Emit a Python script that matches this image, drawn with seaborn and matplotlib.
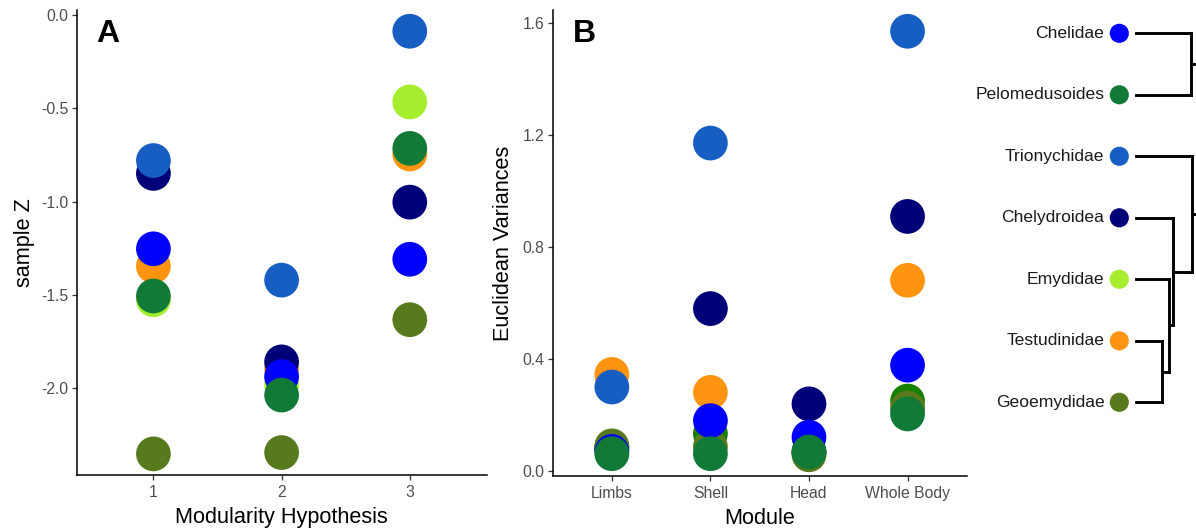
import numpy as np
import pandas as pd
import matplotlib
matplotlib.use("Agg")
import matplotlib.pyplot as plt
import seaborn as sns

# ---------------- data ----------------
families = ["Chelidae", "Pelomedusoides", "Trionychidae", "Chelydroidea",
            "Emydidae", "Testudinidae", "Geoemydidae"]
# order in which points are stacked (bottom -> top)
draw_order = ["Testudinidae", "Emydidae", "Chelydroidea", "Trionychidae",
              "Geoemydidae", "Chelidae", "Pelomedusoides"]

colors_A = {
    "Chelidae": "#0000FF",
    "Pelomedusoides": "#117A37",
    "Trionychidae": "#175EC2",
    "Chelydroidea": "#000078",
    "Emydidae": "#A6EE2D",
    "Testudinidae": "#FF9410",
    "Geoemydidae": "#577A1D",
}
colors_B = dict(colors_A, Emydidae="#168000")

hypotheses = [1, 2, 3]
z_chelidae = [-1.252, -1.937, -1.308]
z_pelomedusoides = [-1.505, -2.036, -0.714]
z_trionychidae = [-0.779, -1.420, -0.086]
z_chelydroidea = [-0.848, -1.858, -1.002]
z_emydidae = [-1.525, -1.980, -0.465]
z_testudinidae = [-1.345, -1.895, -0.744]
z_geoemydidae = [-2.351, -2.344, -1.632]

modules = ["Limbs", "Shell", "Head", "Whole Body"]
v_chelidae = [0.070, 0.180, 0.121, 0.378]
v_pelomedusoides = [0.062, 0.062, 0.068, 0.204]
v_trionychidae = [0.300, 1.171, 0.070, 1.570]
v_chelydroidea = [0.080, 0.580, 0.240, 0.909]
v_emydidae = [0.085, 0.133, 0.065, 0.250]
v_testudinidae = [0.345, 0.281, 0.070, 0.681]
v_geoemydidae = [0.090, 0.087, 0.058, 0.225]

z_by_family = {"Chelidae": z_chelidae, "Pelomedusoides": z_pelomedusoides,
               "Trionychidae": z_trionychidae, "Chelydroidea": z_chelydroidea,
               "Emydidae": z_emydidae, "Testudinidae": z_testudinidae,
               "Geoemydidae": z_geoemydidae}
v_by_family = {"Chelidae": v_chelidae, "Pelomedusoides": v_pelomedusoides,
               "Trionychidae": v_trionychidae, "Chelydroidea": v_chelydroidea,
               "Emydidae": v_emydidae, "Testudinidae": v_testudinidae,
               "Geoemydidae": v_geoemydidae}

# tree: tips top->bottom, internal nodes (child_a, child_b, depth)
tree_tips = ["Chelidae", "Pelomedusoides", "Trionychidae", "Chelydroidea",
             "Emydidae", "Testudinidae", "Geoemydidae"]
tree_nodes = {
    "n1": ("Testudinidae", "Geoemydidae", 25.7),
    "n2": ("Emydidae", "n1", 33.3),
    "n3": ("Chelydroidea", "n2", 36.7),
    "n4": ("Trionychidae", "n3", 55.7),
    "n5": ("Chelidae", "Pelomedusoides", 54.7),
    "root": ("n5", "n4", 75.0),
}

dfA = pd.DataFrame([(h, z_by_family[f][i], f) for f in draw_order
                    for i, h in enumerate(hypotheses)],
                   columns=["hyp", "z", "family"])
dfB = pd.DataFrame([(m, v_by_family[f][i], f) for f in draw_order
                    for i, m in enumerate(modules)],
                   columns=["module", "var", "family"])


def gg_expand(vals, mult=0.05):
    lo, hi = min(vals), max(vals)
    r = hi - lo
    return lo - mult * r, hi + mult * r


# ---------------- style ----------------
sns.set_theme(style="ticks")
plt.rcParams["font.family"] = ["Liberation Sans", "DejaVu Sans"]

W, H = 1196, 529
fig = plt.figure(figsize=(W / 100, H / 100), dpi=100)


def px_axes(x0, x1, ytop, ybot):
    return fig.add_axes([x0 / W, (H - ybot) / H, (x1 - x0) / W, (ybot - ytop) / H])


axA = px_axes(76.5, 486.7, 10.1, 475.0)
axB = px_axes(552.7, 966.7, 10.1, 476.0)

tick_col = "#4D4D4D"


def style_axes(ax):
    for s in ["top", "right"]:
        ax.spines[s].set_visible(False)
    for s in ["left", "bottom"]:
        ax.spines[s].set_linewidth(1.1)
        ax.spines[s].set_color("black")
    ax.tick_params(axis="both", length=3.5, width=0.9, color="#333333",
                   labelcolor=tick_col, labelsize=11.3, pad=2.5)
    ax.tick_params(axis="x", pad=4)
    ax.grid(False)
    ax.set_facecolor("white")


# Panel A
sns.stripplot(data=dfA, x="hyp", y="z", hue="family", order=hypotheses,
              hue_order=families, palette=colors_A, jitter=False, size=25,
              linewidth=0, legend=False, ax=axA)
axA.set_xlim(-0.6, len(hypotheses) - 0.4)
axA.set_ylim(*gg_expand(dfA["z"]))
axA.set_yticks([0.0, -0.5, -1.0, -1.5, -2.0])
axA.set_yticklabels(["0.0", "-0.5", "-1.0", "-1.5", "-2.0"])
axA.set_xticks(range(len(hypotheses)))
axA.set_xticklabels([str(h) for h in hypotheses])
axA.set_xlabel("Modularity Hypothesis", fontsize=15.6, color="black", labelpad=4.5)
axA.set_ylabel("sample Z", fontsize=15.6, color="black", labelpad=4)
style_axes(axA)
axA.text(0.0475, 0.931, "A", transform=axA.transAxes, fontsize=23,
         fontweight="bold", ha="left", va="baseline", color="black")

# Panel B
sns.stripplot(data=dfB, x="module", y="var", hue="family", order=modules,
              hue_order=families, palette=colors_B, jitter=False, size=25,
              linewidth=0, legend=False, ax=axB)
axB.set_xlim(-0.6, len(modules) - 0.4)
axB.set_ylim(*gg_expand(dfB["var"]))
axB.set_yticks([0.0, 0.4, 0.8, 1.2, 1.6])
axB.set_yticklabels(["0.0", "0.4", "0.8", "1.2", "1.6"])
axB.set_xlabel("Module", fontsize=15.6, color="black", labelpad=4.5)
axB.set_ylabel("Euclidean Variances", fontsize=15.6, color="black", labelpad=6)
style_axes(axB)
axB.text(0.048, 0.931, "B", transform=axB.transAxes, fontsize=23,
         fontweight="bold", ha="left", va="baseline", color="black")

# Tree legend
axT = px_axes(960, 1196, 0, 529)
tip_y0, tip_dy = 33.3, 61.5
axT.axis("off")
axT.patch.set_alpha(0)

ypos = {t: i for i, t in enumerate(tree_tips)}
xpos = {t: 0.0 for t in tree_tips}


def node_y(n):
    if n in ypos:
        return ypos[n]
    a, b, d = tree_nodes[n]
    ypos[n] = (node_y(a) + node_y(b)) / 2
    xpos[n] = d
    return ypos[n]


for n in tree_nodes:
    node_y(n)

lw = 2.1
for n, (a, b, d) in tree_nodes.items():
    axT.plot([d, d], [ypos[a], ypos[b]], color="black", lw=lw,
             solid_capstyle="projecting")
    for c in (a, b):
        axT.plot([xpos[c], d], [ypos[c], ypos[c]], color="black", lw=lw,
                 solid_capstyle="projecting")

tipdf = pd.DataFrame({"family": tree_tips, "y": [ypos[t] for t in tree_tips],
                      "x": [-16.7] * len(tree_tips)})
sns.scatterplot(data=tipdf, x="x", y="y", hue="family", hue_order=families,
                palette=colors_A, s=190, linewidth=0, legend=False, ax=axT)
axT.set_xlim(960 - 1136, 1196 - 1136)
axT.set_ylim((529 - tip_y0) / tip_dy, -tip_y0 / tip_dy)
axT.axis("off")
for t in tree_tips:
    axT.text(-31.6, ypos[t], t, ha="right", va="center", fontsize=12.6,
             color="#1a1a1a")

fig.savefig("out.png", dpi=100, facecolor="white")
